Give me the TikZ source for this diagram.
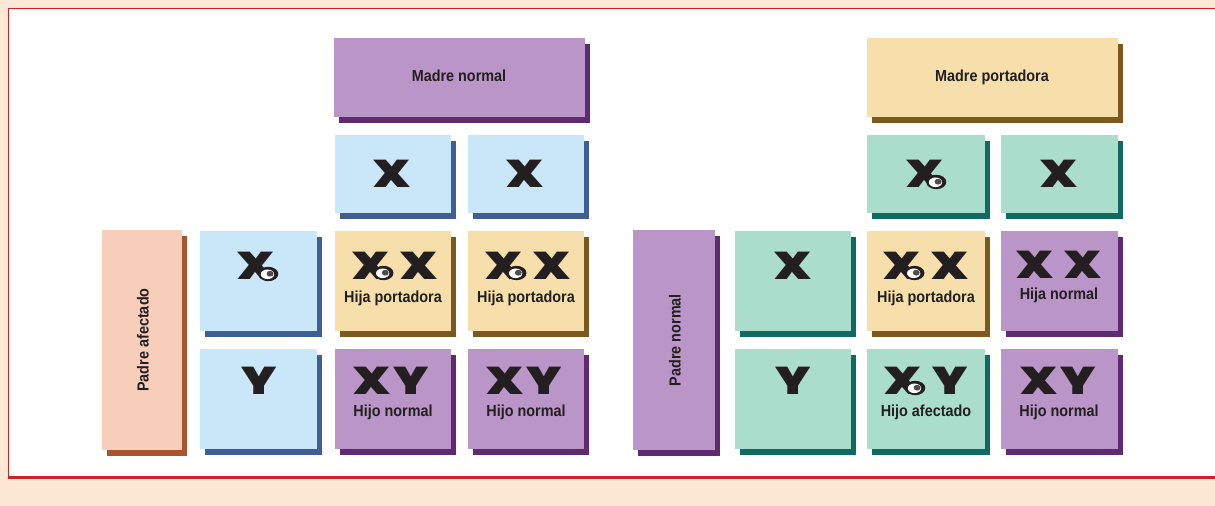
\documentclass[tikz,border=0pt]{standalone}
\usepackage{fontspec}
\setmainfont{Liberation Sans}
\newfontfamily\labf{Liberation Sans}[FakeStretch=0.9]
\IfFontExistsTF{Poppins Black}
 {\newfontfamily\bigf{Poppins Black}[FakeStretch=1.25]\def\bigsize{29}}
 {\newfontfamily\bigf{DejaVu Sans Bold}[FakeStretch=1.3]\def\bigsize{27}}
\usetikzlibrary{shadows}
\definecolor{bgc}{HTML}{FDE8D5}
\definecolor{redc}{HTML}{C9232B}
\definecolor{purF}{HTML}{BA95C7}
\definecolor{purS}{HTML}{5E2A70}
\definecolor{bluF}{HTML}{C9E7F8}
\definecolor{bluS}{HTML}{3F5E96}
\definecolor{yelF}{HTML}{F6DFAA}
\definecolor{yelS}{HTML}{7C5A1F}
\definecolor{pchF}{HTML}{F7CEBA}
\definecolor{pchS}{HTML}{A9542E}
\definecolor{mntF}{HTML}{AADDCC}
\definecolor{mntS}{HTML}{0F6B62}
\definecolor{ink}{HTML}{231F20}
\tikzset{
 big/.style={font=\bigf\fontsize{\bigsize}{\bigsize}\selectfont, text=ink, inner sep=0pt},
 lab/.style={font=\labf\bfseries\fontsize{12}{12}\selectfont, text=ink, inner sep=0pt, anchor=base},
 rlab/.style={font=\labf\bfseries\fontsize{12}{12}\selectfont, text=ink, inner sep=0pt, rotate=90},
}
\newcommand\gapA{\hspace{8pt}}
\newcommand\gapB{\hspace{2pt}}
\newcommand\cellbox[7]{\node[fill=#6, drop shadow={opacity=1, fill=#7, shadow xshift=3.75pt, shadow yshift=-4.5pt}, minimum width={(#4-#2)*0.75pt}, minimum height={(#5-#3)*0.75pt}, inner sep=0pt] (#1) at ({(#2+#4)/2},{(#3+#5)/2}) {};}
% ring marker on the lower right leg of an X: name, text node, dx, dy (px from its west anchor)
\newcommand\ringat[4]{\coordinate (#1) at ([shift={(#3,#4)}]#2.west);
 \begin{scope}[shift={(#1)}]
  \fill[ink] (0,0) ellipse [x radius=7.5pt, y radius=5.4pt];
  \fill[white] (-0.8,0.3) ellipse [x radius=5pt, y radius=3.6pt];
  \fill[ink!80] (1.8,-0.3) ellipse [x radius=2.6pt, y radius=2.2pt];
 \end{scope}}
\begin{document}
\begin{tikzpicture}[x=0.75pt,y=-0.75pt]
\fill[bgc] (0,0) rectangle (1215,506);
\useasboundingbox (0,0) rectangle (1215,506);
\fill[white] (8,8) rectangle (1215,477);
\draw[redc, line width=1.1pt] (1215,8.5) -- (8.5,8.5) -- (8.5,477);
\draw[redc, line width=2.3pt] (8,477.5) -- (1215,477.5);

% ===== left half =====
\cellbox{lm}{334}{38}{585}{117}{purF}{purS}
\node[lab] (lmt) at (459,82) {Madre normal};
\cellbox{lx1}{335}{135}{451}{213}{bluF}{bluS}
\cellbox{lx2}{468}{135}{584}{213}{bluF}{bluS}
\node[big] (lx1t) at (392,174) {X};
\node[big] (lx2t) at (525,174) {X};

\cellbox{lp}{102}{230}{182}{450}{pchF}{pchS}
\node[rlab] (lpt) at (143,340) {Padre afectado};
\cellbox{la}{200}{231}{317}{331}{bluF}{bluS}
\cellbox{lb}{200}{349}{317}{449}{bluF}{bluS}
\node[big] (lat) at (256,266) {X};
\ringat{lar}{lat}{31}{8}
\node[big] (lbt) at (259,381) {Y};

\cellbox{l11}{335}{231}{451}{331}{yelF}{yelS}
\cellbox{l12}{468}{231}{584}{331}{yelF}{yelS}
\cellbox{l21}{335}{349}{451}{449}{purF}{purS}
\cellbox{l22}{468}{349}{584}{449}{purF}{purS}
\node[big] (l11a) at (395,266) {X\gapA X};
\ringat{l11r}{l11a}{31}{7}
\node[lab] (l11t) at (393,302) {Hija portadora};
\node[big] (l12a) at (528,266) {X\gapA X};
\ringat{l12r}{l12a}{31}{7}
\node[lab] (l12t) at (526,302) {Hija portadora};
\node[big] (l21a) at (391,381) {X\gapB Y};
\node[lab] (l21t) at (393,416) {Hijo normal};
\node[big] (l22a) at (524,381) {X\gapB Y};
\node[lab] (l22t) at (526,416) {Hijo normal};

% ===== right half =====
\cellbox{rm}{867}{38}{1118}{117}{yelF}{yelS}
\node[lab] (rmt) at (992,82) {Madre portadora};
\cellbox{rx1}{867}{135}{985}{213}{mntF}{mntS}
\cellbox{rx2}{1001}{135}{1118}{213}{mntF}{mntS}
\node[big] (rx1t) at (925,174) {X};
\ringat{rx1r}{rx1t}{30}{8}
\node[big] (rx2t) at (1059,174) {X};

\cellbox{rp}{633}{230}{715}{450}{purF}{purS}
\node[rlab] (rpt) at (675,340) {Padre normal};
\cellbox{ra}{735}{231}{851}{331}{mntF}{mntS}
\cellbox{rb}{735}{349}{851}{449}{mntF}{mntS}
\node[big] (rat) at (793,266) {X};
\node[big] (rbt) at (793,381) {Y};

\cellbox{r11}{867}{231}{985}{331}{yelF}{yelS}
\cellbox{r12}{1001}{231}{1118}{331}{purF}{purS}
\cellbox{r21}{867}{349}{985}{449}{mntF}{mntS}
\cellbox{r22}{1001}{349}{1118}{449}{purF}{purS}
\node[big] (r11a) at (926,266) {X\gapA X};
\ringat{r11r}{r11a}{31}{7}
\node[lab] (r11t) at (926,302) {Hija portadora};
\node[big] (r12a) at (1059,265) {X\gapA X};
\node[lab] (r12t) at (1059,300) {Hija normal};
\node[big] (r21a) at (926,381) {X\gapA Y};
\ringat{r21r}{r21a}{31}{7}
\node[lab] (r21t) at (926,416) {Hijo afectado};
\node[big] (r22a) at (1058,381) {X\gapB Y};
\node[lab] (r22t) at (1059,416) {Hijo normal};
\end{tikzpicture}
\end{document}
